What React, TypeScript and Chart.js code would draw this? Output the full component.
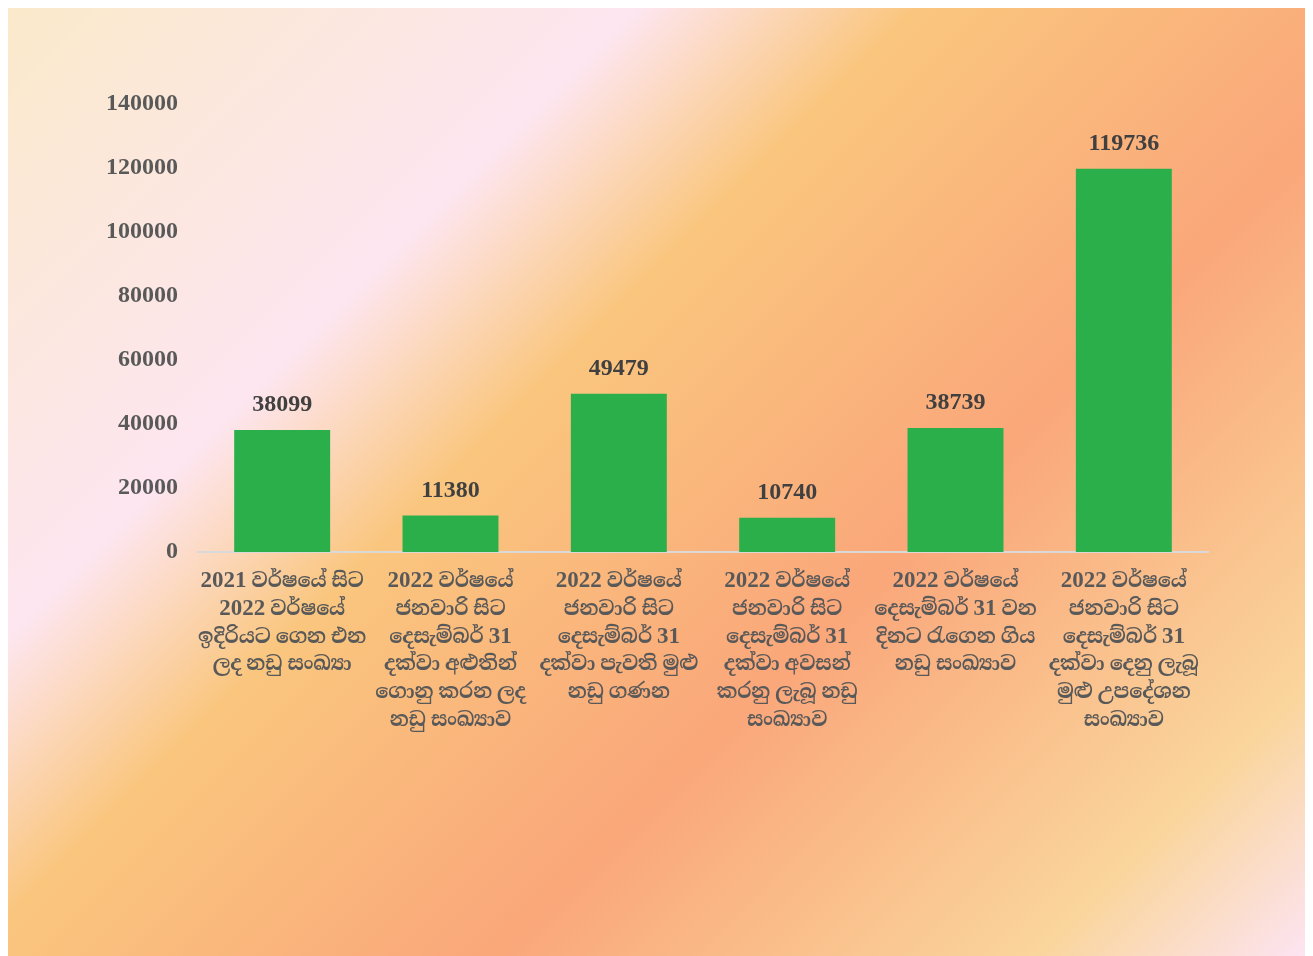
import React, { useEffect, useRef } from "react";
import { Chart, registerables } from "chart.js";

Chart.register(...registerables);

const categories: string[][] = [
  ["2021 වර්ෂයේ සිට", "2022 වර්ෂයේ", "ඉදිරියට ගෙන එන", "ලද නඩු සංඛ්‍යා"],
  ["2022 වර්ෂයේ", "ජනවාරි සිට", "දෙසැම්බර් 31", "දක්වා අළුතින්", "ගොනු කරන ලද", "නඩු සංඛ්‍යාව"],
  ["2022 වර්ෂයේ", "ජනවාරි සිට", "දෙසැම්බර් 31", "දක්වා පැවති මුළු", "නඩු ගණන"],
  ["2022 වර්ෂයේ", "ජනවාරි සිට", "දෙසැම්බර් 31", "දක්වා අවසන්", "කරනු ලැබූ නඩු", "සංඛ්‍යාව"],
  ["2022 වර්ෂයේ", "දෙසැම්බර් 31 වන", "දිනට රැගෙන ගිය", "නඩු සංඛ්‍යාව"],
  ["2022 වර්ෂයේ", "ජනවාරි සිට", "දෙසැම්බර් 31", "දක්වා දෙනු ලැබූ", "මුළු උපදේශන", "සංඛ්‍යාව"],
];

const values: number[] = [38099, 11380, 49479, 10740, 38739, 119736];

const yMin = 0;
const yMax = 140000;
const yStep = 20000;

const FONT = "'Liberation Serif', 'Noto Serif Sinhala', 'Noto Sans Sinhala', serif";
const DIGIT_FONT = `bold 23px 'Liberation Serif', serif`;
const TEXT_FONT = `bold 20px ${FONT}`;
const W = 1297;
const H = 948;

const valueLabelPlugin = {
  id: "valueLabels",
  afterDatasetsDraw(chart: any) {
    const ctx = chart.ctx;
    const meta = chart.getDatasetMeta(0);
    ctx.save();
    ctx.font = `bold 24px ${FONT}`;
    ctx.fillStyle = "#404040";
    ctx.textAlign = "center";
    ctx.textBaseline = "middle";
    meta.data.forEach((bar: any, i: number) => {
      ctx.fillText(String(values[i]), bar.x, bar.y - 25);
    });
    ctx.restore();
  },
};

// Draws the multi-line category labels with bold serif digits and Sinhala text,
// mirroring the mixed-font rendering in the original.
const categoryLabelPlugin = {
  id: "categoryLabels",
  afterDraw(chart: any) {
    const ctx = chart.ctx;
    const xs = chart.scales.x;
    const bottom = chart.chartArea.bottom;
    ctx.save();
    ctx.fillStyle = "#595959";
    ctx.textAlign = "left";
    ctx.textBaseline = "alphabetic";
    categories.forEach((lines, i) => {
      const cx = xs.getPixelForTick(i);
      lines.forEach((line, j) => {
        const parts = line.split(/(\d+)/).filter((p) => p.length > 0);
        let total = 0;
        const widths = parts.map((p) => {
          ctx.font = /^\d+$/.test(p) ? DIGIT_FONT : TEXT_FONT;
          const w = ctx.measureText(p).width;
          total += w;
          return w;
        });
        let x = cx - total / 2;
        const y = bottom + 35 + j * 27.8;
        parts.forEach((p, k) => {
          ctx.font = /^\d+$/.test(p) ? DIGIT_FONT : TEXT_FONT;
          ctx.fillText(p, x, y);
          x += widths[k];
        });
      });
    });
    ctx.restore();
  },
};

export default function App() {
  const ref = useRef<HTMLCanvasElement | null>(null);

  useEffect(() => {
    if (!ref.current) return;
    const chart = new Chart(ref.current, {
      type: "bar",
      data: {
        labels: categories.map((c) => c.join(" ")),
        datasets: [
          {
            data: values,
            backgroundColor: "#2BAF4B",
            borderWidth: 0,
            barPercentage: 0.57,
            categoryPercentage: 1.0,
          },
        ],
      },
      options: {
        responsive: false,
        animation: false,
        layout: { padding: { top: 96, right: 97, left: 0, bottom: 0 } },
        plugins: {
          legend: { display: false },
          tooltip: { enabled: false },
        },
        scales: {
          x: {
            grid: { display: false, drawTicks: false },
            border: { display: true, color: "#D9D9D9", width: 2 },
            ticks: { display: false },
            afterFit: (s: any) => {
              s.height = 404;
            },
          },
          y: {
            min: yMin,
            max: yMax,
            grid: { display: false, drawTicks: false },
            border: { display: false },
            ticks: {
              stepSize: yStep,
              color: "#595959",
              font: { family: FONT, size: 24, weight: "bold" },
              padding: 20,
              callback: (v: any) => String(v),
            },
            afterFit: (s: any) => {
              s.width = 190;
            },
          },
        },
      },
      plugins: [valueLabelPlugin, categoryLabelPlugin],
    });
    return () => chart.destroy();
  }, []);

  return (
    <div
      style={{
        width: W,
        height: H,
        background:
          "linear-gradient(135deg, #FAE9CA 0%, #FDE6F0 28%, #FAC67E 40.5%, #FAA77A 64%, #FAD59C 88%, #FCE4F2 100%)",
      }}
    >
      <canvas ref={ref} width={W} height={H} style={{ display: "block" }} />
    </div>
  );
}
